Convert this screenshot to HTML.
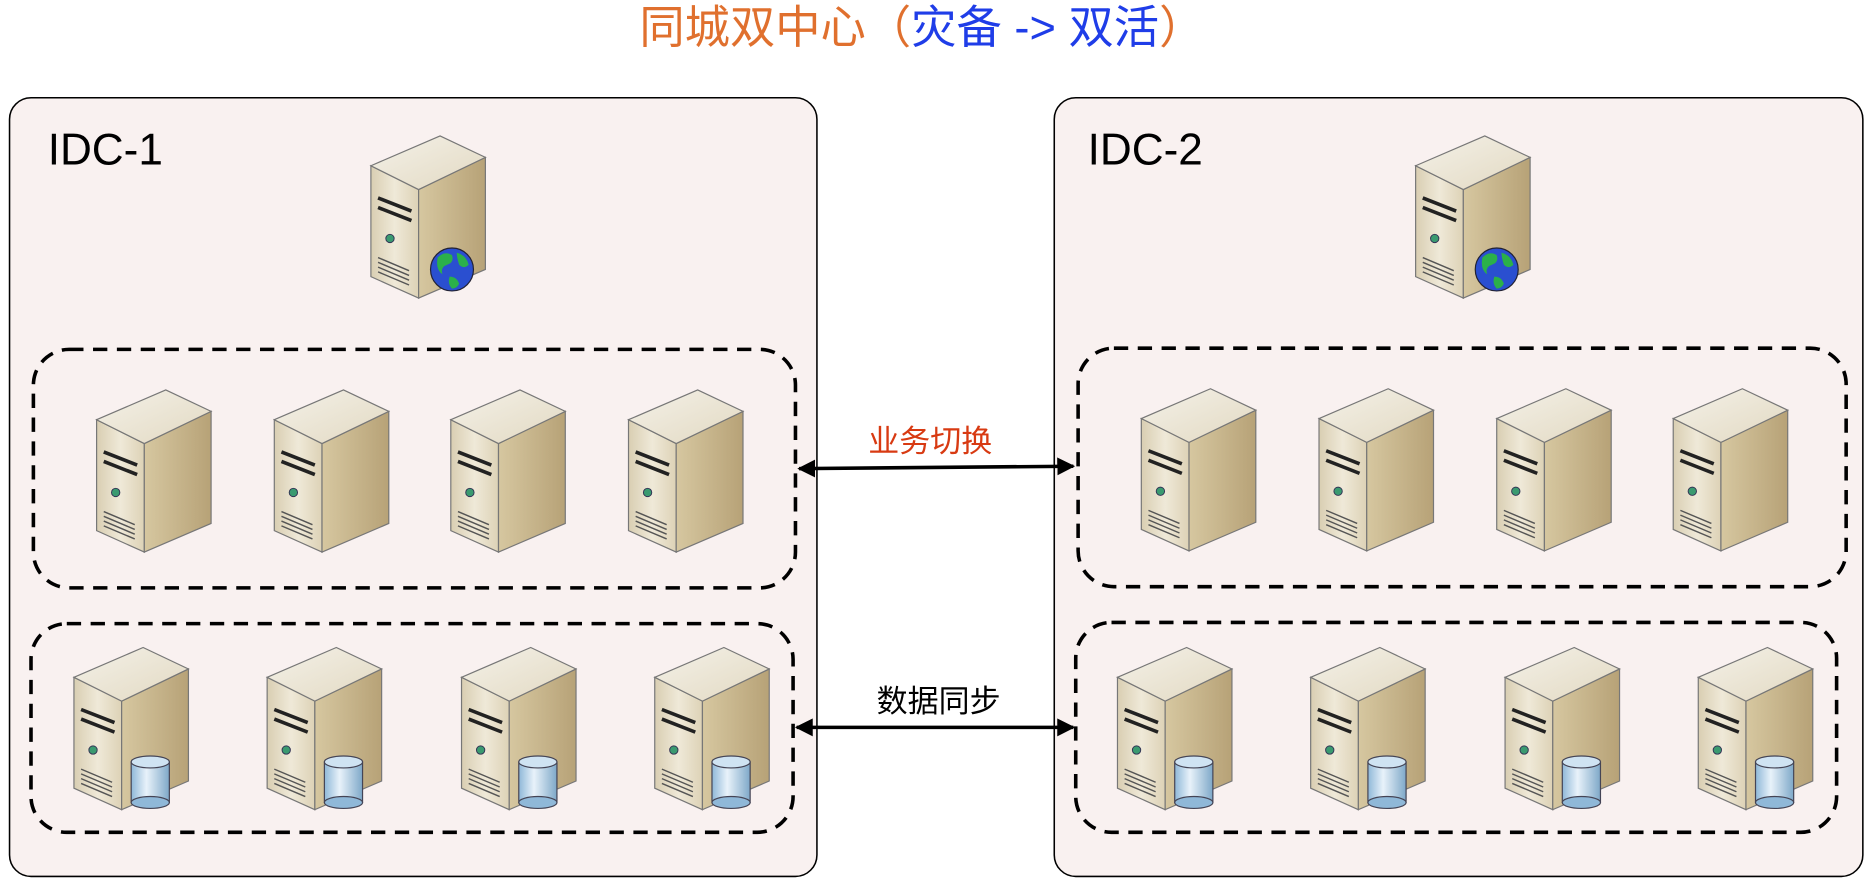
<!DOCTYPE html>
<html><head><meta charset="utf-8"><style>
html,body{margin:0;padding:0;background:#fff;}
svg{display:block;}
text{font-family:"Liberation Sans","Noto Sans CJK SC",sans-serif;}
</style></head><body>
<svg width="1870" height="880" viewBox="0 0 1568 738" preserveAspectRatio="none" xmlns="http://www.w3.org/2000/svg">
<defs>
<linearGradient id="gf" x1="0" y1="0" x2="1" y2="0"><stop offset="0" stop-color="#d9ceb2"/><stop offset="0.5" stop-color="#efe9d8"/><stop offset="1" stop-color="#ddd2b6"/></linearGradient>
<linearGradient id="gs" x1="0" y1="0" x2="1" y2="0"><stop offset="0" stop-color="#d6c7a0"/><stop offset="1" stop-color="#b7a277"/></linearGradient>
<linearGradient id="gt" x1="0" y1="0" x2="1" y2="1"><stop offset="0" stop-color="#f4f1e8"/><stop offset="1" stop-color="#e2d9c2"/></linearGradient>
<linearGradient id="gc" x1="0" y1="0" x2="1" y2="0"><stop offset="0" stop-color="#8fb8d8"/><stop offset="0.4" stop-color="#e8f2fa"/><stop offset="1" stop-color="#7ea8c8"/></linearGradient>
<g id="srv">
<polygon points="0,25 40,45 40,136 0,118" fill="url(#gf)" stroke="#777" stroke-width="1"/>
<polygon points="40,45 96,18 96,112 40,136" fill="url(#gs)" stroke="#777" stroke-width="1"/>
<polygon points="0,25 58,0 96,18 40,45" fill="url(#gt)" stroke="#777" stroke-width="1"/>
<path d="M6,52 L34,63 M6,60 L34,71" stroke="#222" stroke-width="3"/>
<circle cx="16" cy="86" r="3.5" fill="#3a9a70" stroke="#335" stroke-width="0.8"/>
<path d="M6,102 L32,113 M6,106 L32,117 M6,110 L32,121 M6,114 L32,125" stroke="#555" stroke-width="1.2"/>
</g>
<g id="web">
<use href="#srv"/>
<circle cx="68" cy="112" r="18" fill="#2a4fd0" stroke="#223" stroke-width="1"/>
<path d="M56,102 q6,-6 12,-2 q2,6 -4,8 q-6,2 -4,8 q-6,-4 -4,-14z M72,98 q8,2 10,10 q-4,4 -8,0 q-2,-6 -2,-10z M66,118 q6,0 8,6 q-2,4 -6,4 q-4,-4 -2,-10z" fill="#2bb04a"/>
</g>
<g id="db">
<use href="#srv"/>
<rect x="48" y="96" width="32" height="34" fill="url(#gc)" stroke="#445" stroke-width="1"/>
<ellipse cx="64" cy="130" rx="16" ry="5" fill="#8fb8d8" stroke="#445" stroke-width="1"/>
<ellipse cx="64" cy="96" rx="16" ry="5" fill="#cfe3f2" stroke="#445" stroke-width="1"/>
</g>
<marker id="ah" viewBox="0 0 10 10" refX="9" refY="5" markerWidth="5" markerHeight="5" orient="auto-start-reverse"><path d="M0,0 L10,5 L0,10z" fill="#000"/></marker>
</defs>
<text x="773" y="36" font-size="38" text-anchor="middle"><tspan fill="#e0702e">同城双中心（</tspan><tspan fill="#1f3de8">灾备 -&gt; 双活</tspan><tspan fill="#e0702e">）</tspan></text>
<rect x="8" y="82" width="677" height="653" rx="18" fill="#f9f1f0" stroke="#000" stroke-width="1.3"/>
<rect x="884" y="82" width="678" height="653" rx="18" fill="#f9f1f0" stroke="#000" stroke-width="1.3"/>
<text x="40" y="138" font-size="37" fill="#000">IDC-1</text>
<text x="912" y="138" font-size="37" fill="#000">IDC-2</text>
<g fill="none" stroke="#000" stroke-width="3" stroke-dasharray="12 8">
<rect x="28" y="293" width="639" height="200" rx="30"/>
<rect x="26" y="523" width="639" height="175" rx="30"/>
<rect x="904" y="292" width="644" height="200" rx="30"/>
<rect x="902" y="522" width="638" height="176" rx="30"/>
</g>
<use href="#web" x="311" y="114"/>
<use href="#web" x="1187" y="114"/>
<use href="#srv" x="81" y="327"/><use href="#srv" x="230" y="327"/><use href="#srv" x="378" y="327"/><use href="#srv" x="527" y="327"/>
<use href="#srv" x="957" y="326"/><use href="#srv" x="1106" y="326"/><use href="#srv" x="1255" y="326"/><use href="#srv" x="1403" y="326"/>
<use href="#db" x="62" y="543"/><use href="#db" x="224" y="543"/><use href="#db" x="387" y="543"/><use href="#db" x="549" y="543"/>
<use href="#db" x="937" y="543"/><use href="#db" x="1099" y="543"/><use href="#db" x="1262" y="543"/><use href="#db" x="1424" y="543"/>
<line x1="670" y1="393" x2="900" y2="391" stroke="#000" stroke-width="3" marker-start="url(#ah)" marker-end="url(#ah)"/>
<line x1="668" y1="610" x2="900" y2="610" stroke="#000" stroke-width="3" marker-start="url(#ah)" marker-end="url(#ah)"/>
<text x="780" y="379" font-size="26" fill="#d83a12" text-anchor="middle">业务切换</text>
<text x="787" y="597" font-size="26" fill="#000" text-anchor="middle">数据同步</text>
</svg>
</body></html>
